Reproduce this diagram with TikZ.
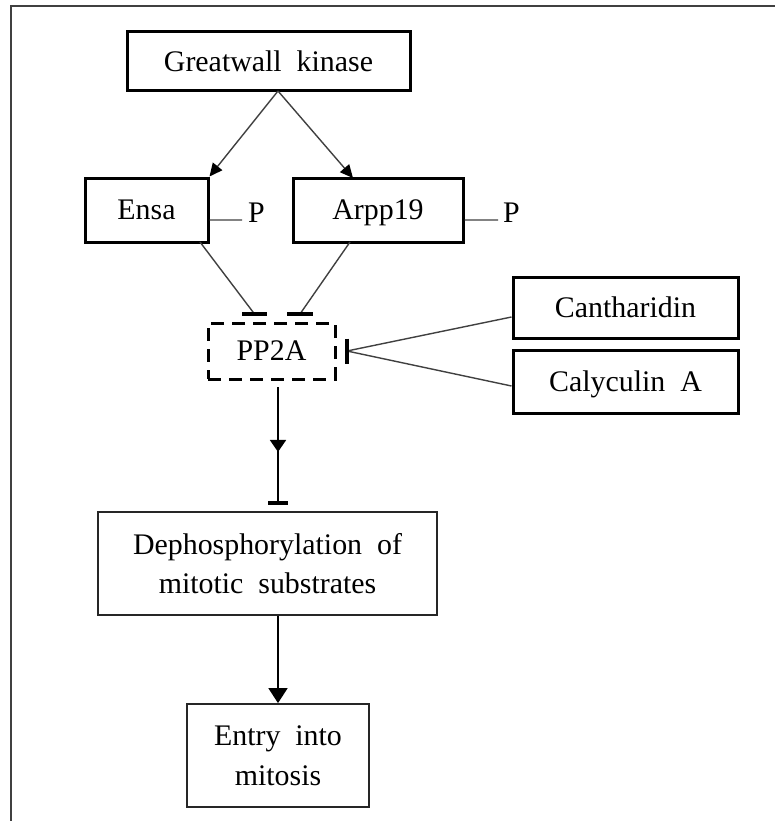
\documentclass[tikz,border=0pt]{standalone}
\usepackage{fontspec}
\setmainfont{Liberation Serif}
\usetikzlibrary{arrows.meta,decorations.markings}
\begin{document}
\begin{tikzpicture}[x=1bp,y=-1bp,
  every node/.style={font=\fontsize{30}{40}\selectfont, inner sep=0pt, align=center, text depth=0pt},
  thickbox/.style={draw=black, line width=3bp},
  thinbox/.style={draw=black!85, line width=1.8bp},
  dashbox/.style={draw=black, line width=3bp, dash pattern=on 13bp off 8bp},
  conn/.style={draw=black!75, line width=1.4bp},
  arr/.style={conn, -{Triangle[length=13bp,width=12bp,color=black]}},
  bararrow/.style={draw=black, line width=1.8bp, -{Triangle[length=15bp,width=19bp]}},
  tbar/.style={draw=black, line width=3.4bp},
  frameline/.style={draw=black!75, line width=2.4bp}
]
\useasboundingbox (0,0) rectangle (775,821);
% frame (only top and left edges visible)
\draw[frameline] (11,821) -- (11,6) -- (775,6);

% nodes
\node[thickbox, minimum width=283bp, minimum height=58bp] (gw) at (268.5,61) {Greatwall\ \ kinase};
\node[thickbox, minimum width=123bp, minimum height=64bp] (ensa) at (146.5,210) {Ensa};
\node[thickbox, minimum width=170bp, minimum height=64bp] (arpp) at (378,210) {Arpp19};
\node[anchor=base west] (p1) at (248,222) {P};
\node[anchor=base west] (p2) at (503,222) {P};
\node[dashbox, minimum width=127bp, minimum height=56bp] (pp2a) at (271.5,351) {PP2A};
\node[thickbox, minimum width=225bp, minimum height=61bp] (canth) at (625.5,307.5) {Cantharidin};
\node[thickbox, minimum width=225bp, minimum height=63bp] (caly) at (625.5,381.5) {Calyculin\ \ A};
\node[thinbox, minimum width=339bp, minimum height=103bp] (deph) at (267.5,563.5) {Dephosphorylation\ \ of\\mitotic\ \ substrates};
\node[thinbox, minimum width=182bp, minimum height=103bp] (entry) at (278,755.5) {Entry\ \ into\\mitosis};

% coordinates for free ends
\coordinate (gwout) at (278,91);
\coordinate (arpin) at (353,178);
\coordinate (p1end) at (242,220);
\coordinate (p2end) at (498,220);
\coordinate (ensaout) at (200,242);
\coordinate (ensabar) at (254.5,314);
\coordinate (arpout) at (350,242);
\coordinate (arpbar) at (300,314);
\coordinate (inhpt) at (347,351);
\coordinate (pp2aout) at (278,387);
\coordinate (dephbar) at (278,503);

% activation arrows from Greatwall
\draw[arr] (gwout) -- (ensa.north east);
\draw[arr] (gwout) -- (arpin);

% phosphate marks
\draw[conn] ([yshift=-10bp]ensa.east) -- (p1end);
\draw[conn] ([yshift=-10bp]arpp.east) -- (p2end);

% inhibition of PP2A by Ensa and Arpp19
\draw[conn] (ensaout) -- (ensabar);
\draw[tbar] ([xshift=-12.5bp]ensabar) -- ([xshift=12.5bp]ensabar);
\draw[conn] (arpout) -- (arpbar);
\draw[tbar] ([xshift=-13bp]arpbar) -- ([xshift=13bp]arpbar);

% inhibition of PP2A by Cantharidin and Calyculin A
\draw[conn] ([yshift=-9.5bp]canth.west) -- (inhpt);
\draw[conn] ([yshift=-4.5bp]caly.west) -- (inhpt);
\draw[tbar, line width=4bp] ([yshift=12.5bp]inhpt) -- ([yshift=-12.5bp]inhpt);

% PP2A to dephosphorylation
\draw[draw=black, line width=1.8bp, postaction={decorate},
  decoration={markings, mark=at position 0.56 with {\arrow{Triangle[length=12bp,width=16bp]}}}]
  (pp2aout) -- (dephbar);
\draw[tbar] ([xshift=-10bp]dephbar) -- ([xshift=10bp]dephbar);

% dephosphorylation to entry into mitosis
\draw[bararrow] (entry.north |- deph.south) -- (entry.north);
\end{tikzpicture}
\end{document}
